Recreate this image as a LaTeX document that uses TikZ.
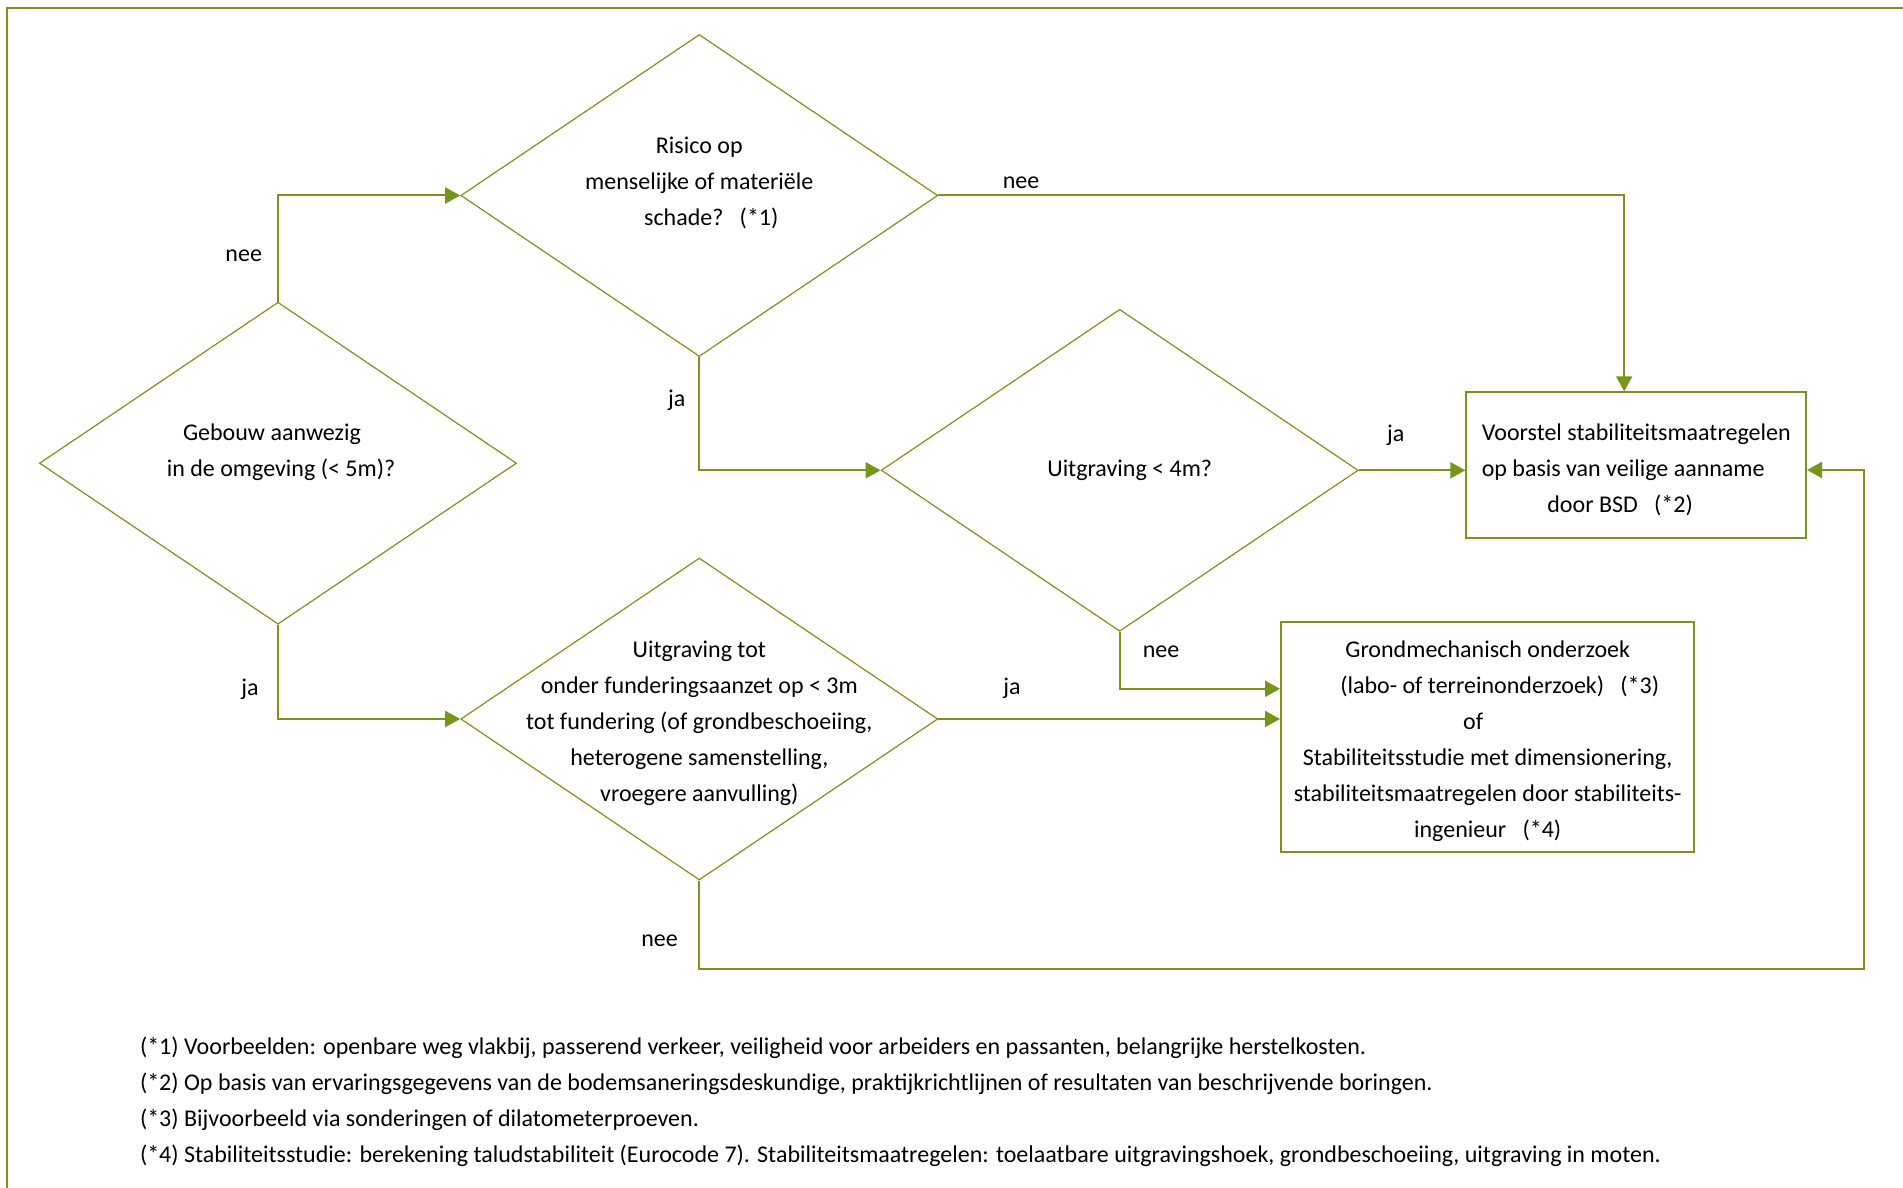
\documentclass[tikz,border=0pt]{standalone}
\usepackage{fontspec}
\setmainfont{Carlito}
\usepackage{tikz}
\usetikzlibrary{arrows.meta, shapes.geometric}
\definecolor{groen}{HTML}{76961A}
\newcommand{\normaltekst}{\fontsize{12pt}{18pt}\selectfont}

\begin{document}
\begin{tikzpicture}[x=0.5pt, y=-0.5pt, font=\normaltekst,
    beslissing/.style={draw=groen, line width=0.6pt, diamond, inner sep=0pt,
      minimum width=238.5pt, minimum height=161pt},
    actie/.style={draw=groen, line width=1pt, rectangle, inner sep=0pt},
    tekst/.style={align=center, inner sep=0pt},
    pijl/.style={draw=groen, line width=1pt, -{Triangle[length=7.5pt, width=8pt]}},
    lbl/.style={anchor=base, inner sep=0pt}]
      \useasboundingbox (0,0) rectangle (1903,1188);

      % Kader
      \draw[groen, line width=1pt] (1903,8.5) -- (6.5,8.5) -- (6.5,1188);

      % Beslissingen
      \node[beslissing, label={[tekst, xshift=1.5pt, yshift=5.4pt]center:{Gebouw aanwezig\hspace*{9pt}\mbox{}\\in de omgeving (< 5m)?}}]
        (gebouw) at (278,463.2) {};
      \node[beslissing, label={[tekst, yshift=6.2pt]center:{Risico op\\menselijke of materiële\\\hspace*{12pt}schade?\ \ \ (*1)}}]
        (risico) at (699.3,195.5) {};
      \node[beslissing, label={[tekst, xshift=5pt]center:{Uitgraving < 4m?}}]
        (uitgraving) at (1119.7,470.3) {};
      \node[beslissing, label={[tekst, yshift=-2.3pt]center:{Uitgraving tot\\onder funderingsaanzet op < 3m\\tot fundering (of grondbeschoeiing,\\heterogene samenstelling,\\vroegere aanvulling)}}]
        (fundering) at (699.3,719) {};

      % Acties
      \node[actie, minimum width=169.8pt, minimum height=72.7pt,
        label={[tekst, align=left, yshift=-2.5pt]center:{Voorstel stabiliteitsmaatregelen\\op basis van veilige aanname\\\hspace*{32.8pt}door BSD~~~(*2)}}]
        (voorstel) at (1636.2,465) {};
      \node[actie, minimum width=206.7pt, minimum height=114.8pt,
        label={[tekst, yshift=-2.2pt]center:{Grondmechanisch onderzoek\\\hspace*{12pt}(labo- of terreinonderzoek)~~~(*3)\\of\hspace*{14.6pt}\mbox{}\\Stabiliteitsstudie met dimensionering,\\stabiliteitsmaatregelen door stabiliteits-\\ingenieur~~~(*4)}}]
        (onderzoek) at (1487.7,736.8) {};

      % Verbindingen
      \coordinate (terug) at (1864.4,968.5);
      \draw[pijl] (gebouw.north) |- (risico.west);
      \draw[pijl] (gebouw.south) |- (fundering.west);
      \draw[pijl] (risico.east) -| ([xshift=-6pt]voorstel.north);
      \draw[pijl] (risico.south) |- (uitgraving.west);
      \draw[pijl] (uitgraving.east) -- (uitgraving.east -| voorstel.west);
      \draw[pijl] (uitgraving.south) |- ([yshift=24pt]onderzoek.west);
      \draw[pijl] (fundering.east) -- (fundering.east -| onderzoek.west);
      \draw[pijl] (fundering.south) |- (terug) |- ([yshift=-2.5pt]voorstel.east);

      % ja / nee
      \node[lbl] (neeA) at (243.7,261.5) {nee};
      \node[lbl] (neeB) at (1021,189) {nee};
      \node[lbl] (jaC) at (676.7,406) {ja};
      \node[lbl] (jaD) at (1395.7,441.6) {ja};
      \node[lbl] (neeE) at (1161,657) {nee};
      \node[lbl] (jaF) at (250,695.4) {ja};
      \node[lbl] (jaG) at (1012,694.6) {ja};
      \node[lbl] (neeH) at (659.5,946.5) {nee};

      % Voetnoten
      \node[tekst, align=left, anchor=west] (voetnoten) at (139.6,1101.5)
        {(*1) Voorbeelden: openbare weg vlakbij, passerend verkeer, veiligheid voor arbeiders en passanten, belangrijke herstelkosten.\\
         (*2) Op basis van ervaringsgegevens van de bodemsaneringsdeskundige, praktijkrichtlijnen of resultaten van beschrijvende boringen.\\
         (*3) Bijvoorbeeld via sonderingen of dilatometerproeven.\\
         (*4) Stabiliteitsstudie: berekening taludstabiliteit (Eurocode 7). Stabiliteitsmaatregelen: toelaatbare uitgravingshoek, grondbeschoeiing, uitgraving in moten.};
\end{tikzpicture}
\end{document}
